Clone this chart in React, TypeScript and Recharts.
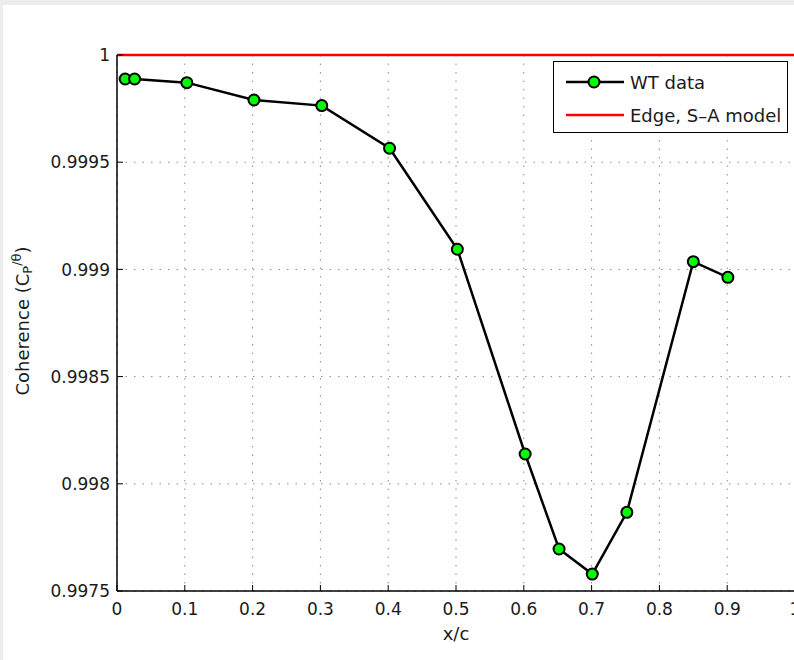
import React from 'react';
import { LineChart, Line, XAxis, YAxis, CartesianGrid, ReferenceLine, Legend } from 'recharts';

const xPositions = [0.012, 0.026, 0.103, 0.202, 0.302, 0.402, 0.502, 0.602, 0.652, 0.701, 0.752, 0.85, 0.901];
const wtCoherence = [0.999888, 0.999888, 0.999871, 0.99979, 0.999764, 0.999565, 0.999094, 0.998139, 0.997696, 0.997579, 0.997867, 0.999036, 0.998963];
const edgeCoherence = 1;
const xTicks = [0, 0.1, 0.2, 0.3, 0.4, 0.5, 0.6, 0.7, 0.8, 0.9, 1];
const xTickLabels = ['0', '0.1', '0.2', '0.3', '0.4', '0.5', '0.6', '0.7', '0.8', '0.9', '1'];
const yTicks = [0.9975, 0.998, 0.9985, 0.999, 0.9995, 1];
const yTickLabels = ['0.9975', '0.998', '0.9985', '0.999', '0.9995', '1'];
const seriesNames = ['WT data', 'Edge, S\u2013A model'];

const data = xPositions.map((x, i) => ({ x, wt: wtCoherence[i] }));

const FONT = '"DejaVu Sans", Arial, sans-serif';
const TEXT = '#1a1a1a';

const YTick = (props: any) => {
  const { x, y, index } = props;
  const ax = x + 7;
  return (
    <g>
      <line x1={ax} x2={ax + 6} y1={y} y2={y} stroke="#000" strokeWidth={1} />
      <text x={x} y={y} dy="0.36em" textAnchor="end" fontSize={17} fontFamily={FONT} fill={TEXT}>
        {yTickLabels[index]}
      </text>
    </g>
  );
};

const XTick = (props: any) => {
  const { x, y, index } = props;
  const ay = y - 12;
  return (
    <g>
      <line x1={x} x2={x} y1={ay} y2={ay - 6} stroke="#000" strokeWidth={1} />
      <text x={x} y={y} dy="0.71em" textAnchor="middle" fontSize={17} fontFamily={FONT} fill={TEXT}>
        {xTickLabels[index]}
      </text>
    </g>
  );
};

const YLabel = (props: any) => {
  const vb = props.viewBox || {};
  const cx = 19;
  const cy = (vb.y || 0) + (vb.height || 0) / 2 - 2;
  return (
    <text
      x={cx}
      y={cy}
      transform={`rotate(-90 ${cx} ${cy})`}
      textAnchor="middle"
      dominantBaseline="central"
      fontSize={18}
      fontFamily={FONT}
      fill={TEXT}
    >
      Coherence (C
      <tspan fontSize={13} dy={5}>P</tspan>
      <tspan fontSize={13} dy={-11}>/θ</tspan>
      <tspan fontSize={18} dy={6}>)</tspan>
    </text>
  );
};

const XLabel = (props: any) => {
  const vb = props.viewBox || {};
  const cx = (vb.x || 0) + (vb.width || 0) / 2;
  const cy = (vb.y || 0) + 42;
  return (
    <text x={cx} y={cy} textAnchor="middle" dominantBaseline="central" fontSize={18} fontFamily={FONT} fill={TEXT}>
      x/c
    </text>
  );
};

const LegendBox = () => (
  <div
    style={{
      width: 233,
      height: 70,
      border: '1.5px solid #000',
      background: '#fff',
      fontFamily: FONT,
      fontSize: 18,
      color: TEXT,
      position: 'relative',
    }}
  >
    <div style={{ position: 'absolute', left: 12, top: 8, height: 24, display: 'flex', alignItems: 'center' }}>
      <svg width={58} height={24} style={{ display: 'block' }}>
        <line x1={0} x2={58} y1={12} y2={12} stroke="#000" strokeWidth={2.5} />
        <circle cx={28} cy={12} r={5.5} fill="#00ff00" stroke="#000" strokeWidth={2} />
      </svg>
      <span style={{ marginLeft: 6, whiteSpace: 'nowrap' }}>{seriesNames[0]}</span>
    </div>
    <div style={{ position: 'absolute', left: 12, top: 41, height: 24, display: 'flex', alignItems: 'center' }}>
      <svg width={58} height={24} style={{ display: 'block' }}>
        <line x1={0} x2={58} y1={12} y2={12} stroke="#ff0000" strokeWidth={2.5} />
      </svg>
      <span style={{ marginLeft: 6, whiteSpace: 'nowrap' }}>{seriesNames[1]}</span>
    </div>
  </div>
);

export default function App() {
  return (
    <div
      style={{
        position: 'fixed',
        left: 0,
        top: 0,
        width: 794,
        height: 660,
        overflow: 'hidden',
        background: '#ececec',
      }}
    >
      <div style={{ position: 'absolute', left: 3, top: 5, width: 900, height: 655, background: '#fff' }}>
        <LineChart width={900} height={655} data={data} margin={{ top: 50, right: 108, bottom: 0, left: 0 }}>
          <CartesianGrid stroke="#8a8a8a" strokeDasharray="1.5 7" strokeWidth={1} />
          <XAxis
            dataKey="x"
            type="number"
            domain={[0, 1]}
            ticks={xTicks}
            height={69}
            tickSize={0}
            tickMargin={12}
            tick={<XTick />}
            axisLine={{ stroke: '#000', strokeWidth: 1.5 }}
            tickLine={false}
            interval={0}
            label={<XLabel />}
          />
          <YAxis
            type="number"
            domain={[0.9975, 1]}
            ticks={yTicks}
            width={114}
            tickSize={0}
            tickMargin={7}
            tick={<YTick />}
            axisLine={{ stroke: '#000', strokeWidth: 1.5 }}
            tickLine={false}
            interval={0}
            allowDataOverflow
            label={<YLabel />}
          />
          <ReferenceLine y={edgeCoherence} stroke="#ff0000" strokeWidth={2.5} />
          <Line
            dataKey="wt"
            name={seriesNames[0]}
            stroke="#000"
            strokeWidth={2.5}
            dot={{ r: 5.5, fill: '#00ff00', stroke: '#000', strokeWidth: 2 }}
            isAnimationActive={false}
          />
          <Legend
            layout="horizontal"
            verticalAlign="middle"
            align="center"
            content={<LegendBox />}
            wrapperStyle={{ position: 'absolute', left: 550, top: 56, width: 236, height: 73 }}
          />
        </LineChart>
      </div>
    </div>
  );
}
